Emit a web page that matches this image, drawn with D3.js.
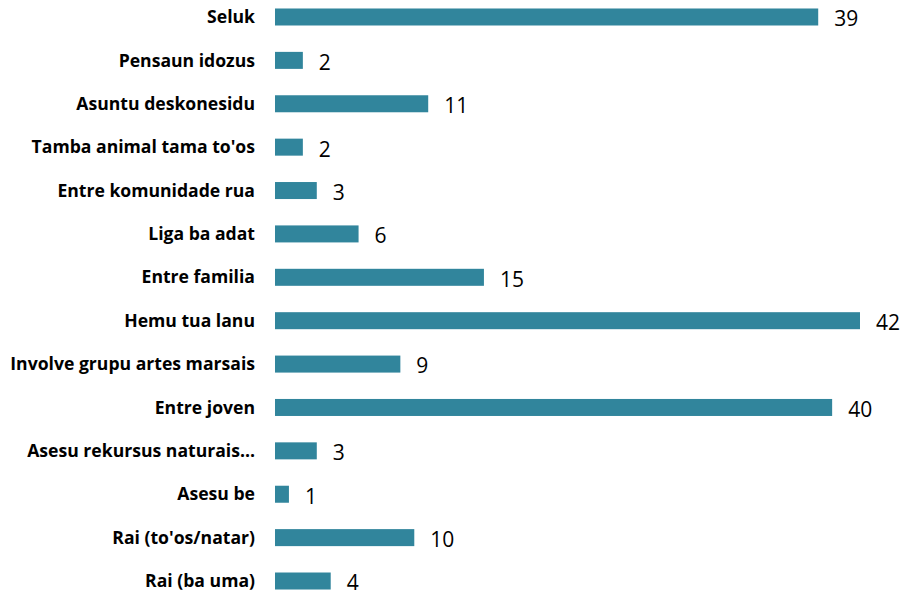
<!DOCTYPE html>
<html>
<head>
<meta charset="utf-8">
<script src="https://cdn.jsdelivr.net/npm/d3@7"></script>
<style>
  body { margin: 0; background: #fff; }
  svg { display: block; }
</style>
</head>
<body>
<div id="chart"></div>
<script>
// categories and values, top to bottom
var categories = ["Seluk", "Pensaun idozus", "Asuntu deskonesidu", "Tamba animal tama to'os",
  "Entre komunidade rua", "Liga ba adat", "Entre familia", "Hemu tua lanu",
  "Involve grupu artes marsais", "Entre joven", "Asesu rekursus naturais\u2026",
  "Asesu be", "Rai (to'os/natar)", "Rai (ba uma)"]
var values = [39, 2, 11, 2, 3, 6, 15, 42, 9, 40, 3, 1, 10, 4]

var width = 906, height = 595

var svg = d3.select("#chart")
  .append("svg")
    .attr("width", width)
    .attr("height", height)

var data = categories.map(function(c, i) { return {name: c, value: values[i]} })

// x scale: bar length
var x = d3.scaleLinear()
  .domain([0, 42])
  .range([275, 860])

// y scale: one band per category
var y = d3.scaleBand()
  .domain(categories)
  .range([-4.7, 602.7])
  .paddingInner(0.608)
  .paddingOuter(0.304)

// bars
svg.selectAll("rect.bar")
  .data(data)
  .enter()
  .append("rect")
    .attr("class", "bar")
    .attr("x", x(0))
    .attr("y", function(d) { return y(d.name) })
    .attr("width", function(d) { return x(d.value) - x(0) })
    .attr("height", y.bandwidth())
    .attr("fill", "#31859C")

// category labels
svg.selectAll("text.cat")
  .data(data)
  .enter()
  .append("text")
    .attr("class", "cat")
    .attr("x", 255)
    .attr("y", function(d) { return y(d.name) + y.bandwidth() / 2 })
    .attr("dy", "0.35em")
    .attr("text-anchor", "end")
    .style("font-family", "'Open Sans', 'Noto Sans', sans-serif")
    .style("font-weight", "bold")
    .style("font-size", "17.6px")
    .style("fill", "#000")
    .text(function(d) { return d.name })

// value labels
svg.selectAll("text.val")
  .data(data)
  .enter()
  .append("text")
    .attr("class", "val")
    .attr("x", function(d) { return x(d.value) + 16 })
    .attr("y", function(d) { return y(d.name) + y.bandwidth() / 2 + 2 })
    .attr("dy", "0.35em")
    .style("font-family", "'Open Sans', 'Noto Sans', sans-serif")
    .style("font-size", "21px")
    .style("fill", "#000")
    .text(function(d) { return d.value })
</script>
</body>
</html>
